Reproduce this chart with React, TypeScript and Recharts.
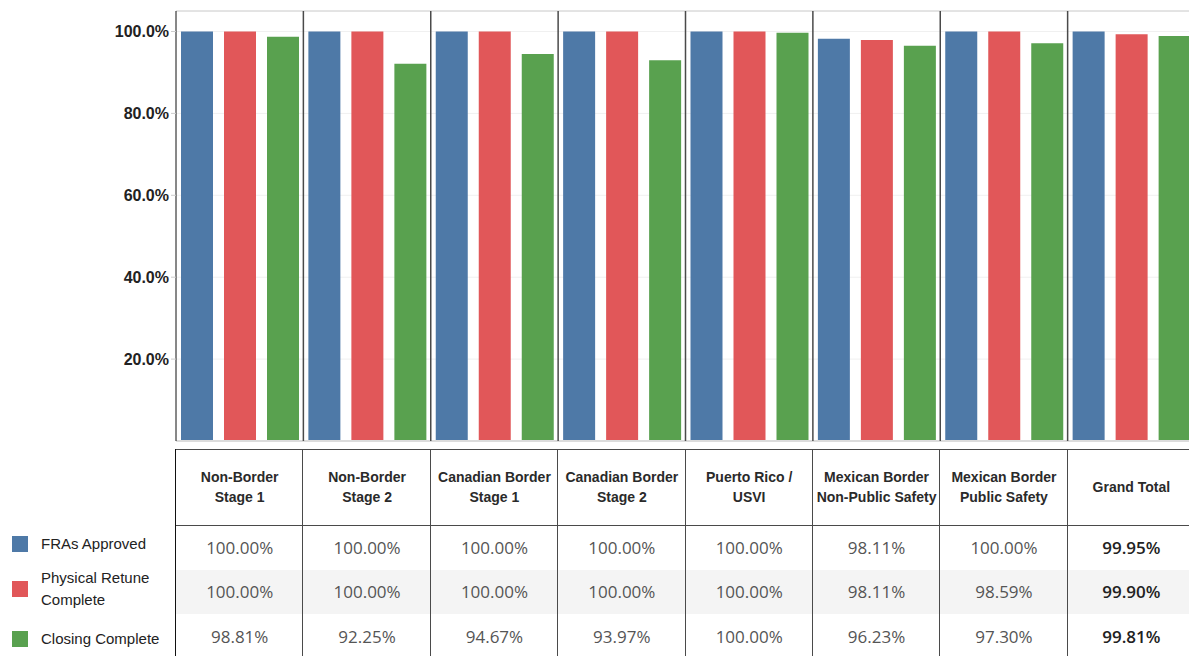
import { BarChart, Bar, XAxis, YAxis, CartesianGrid, ReferenceLine } from 'recharts';

// categories (line breaks are the header wraps in the table)
const categories = [
  'Non-Border\nStage 1',
  'Non-Border\nStage 2',
  'Canadian Border\nStage 1',
  'Canadian Border\nStage 2',
  'Puerto Rico /\nUSVI',
  'Mexican Border\nNon-Public Safety',
  'Mexican Border\nPublic Safety',
  'Grand Total',
];

// bar heights as drawn in the picture
const fraApproved = [100, 100, 100, 100, 100, 98.2, 100, 100];
const physicalRetune = [100, 100, 100, 100, 100, 97.9, 100, 99.3];
const closingComplete = [98.7, 92.1, 94.5, 93.0, 99.7, 96.5, 97.1, 98.9];

// table text
const fraLabels = ['100.00%', '100.00%', '100.00%', '100.00%', '100.00%', '98.11%', '100.00%', '99.95%'];
const retuneLabels = ['100.00%', '100.00%', '100.00%', '100.00%', '100.00%', '98.11%', '98.59%', '99.90%'];
const closingLabels = ['98.81%', '92.25%', '94.67%', '93.97%', '100.00%', '96.23%', '97.30%', '99.81%'];

const yTicks = [20, 40, 60, 80, 100];

const series = [
  { key: 'fra', name: 'FRAs Approved', color: '#4e79a7', labels: fraLabels },
  { key: 'retune', name: 'Physical Retune\nComplete', color: '#e15759', labels: retuneLabels },
  { key: 'closing', name: 'Closing Complete', color: '#59a14f', labels: closingLabels },
];

const data = categories.map((c, i) => ({
  name: c,
  fra: fraApproved[i],
  retune: physicalRetune[i],
  closing: closingComplete[i],
}));

const AXIS_W = 176;
const CHART_W = 1195;
const BAND = (CHART_W - AXIS_W) / categories.length;
const TABLE_TOP = 449;
const HEADER_H = 76;
const ROW_H = 44.5;
const LINE = '#4a4a4a';

export default function App() {
  return (
    <div style={{ position: 'absolute', left: 0, top: 0, width: 1189, height: 656, overflow: 'hidden', background: '#fff' }}>
      <BarChart
        width={CHART_W}
        height={444}
        data={data}
        margin={{ top: 11, right: 0, left: 0, bottom: 3 }}
        barSize={32}
        barGap={11}
      >
        <CartesianGrid vertical={false} stroke="#f0f0f0" />
        <XAxis dataKey="name" hide />
        <YAxis
          width={AXIS_W}
          domain={[0, 105]}
          ticks={yTicks}
          tickFormatter={(v) => `${Number(v).toFixed(1)}%`}
          tick={{ fontFamily: 'Liberation Sans, Arial', fontSize: 16, fontWeight: 'bold', fill: '#222' }}
          axisLine={{ stroke: '#111' }}
          tickLine={{ stroke: '#ccc' }}
          tickSize={5}
        />
        <ReferenceLine y={105} stroke="#d0d0d0" />
        <ReferenceLine y={0} stroke="#dcdcdc" strokeWidth={2} />
        {categories.slice(1).map((c) => (
          <ReferenceLine key={c} x={c} position="start" stroke={LINE} strokeWidth={1.5} />
        ))}
        {series.map((s) => (
          <Bar key={s.key} dataKey={s.key} name={s.name} fill={s.color} isAnimationActive={false} />
        ))}
      </BarChart>

      {/* table under the chart */}
      <div style={{ position: 'absolute', left: AXIS_W, top: TABLE_TOP, width: CHART_W - AXIS_W, height: 656 - TABLE_TOP }}>
        <div style={{ position: 'absolute', left: 0, top: HEADER_H + ROW_H, width: '100%', height: ROW_H, background: '#f4f4f4' }} />
        <div style={{ position: 'absolute', left: 0, top: 0, width: '100%', borderTop: `1.5px solid ${LINE}` }} />
        <div style={{ position: 'absolute', left: 0, top: HEADER_H, width: '100%', borderTop: `1.5px solid ${LINE}` }} />
        <div style={{ position: 'absolute', left: -1, top: 0, height: '100%', borderLeft: '1.5px solid #111' }} />
        {categories.map((c, i) => (
          <div key={c} style={{ position: 'absolute', left: i * BAND, top: 0, width: BAND, height: '100%' }}>
            {i > 0 && (
              <div style={{ position: 'absolute', left: -1, top: 0, height: '100%', borderLeft: `1.5px solid ${LINE}` }} />
            )}
            <div
              style={{
                position: 'absolute',
                left: 0,
                top: 0,
                width: '100%',
                height: HEADER_H,
                display: 'flex',
                alignItems: 'center',
                justifyContent: 'center',
                textAlign: 'center',
                whiteSpace: 'pre-line',
                fontFamily: 'Liberation Sans, Arial',
                fontWeight: 'bold',
                fontSize: 14,
                lineHeight: '20px',
                color: '#2a2a2a',
              }}
            >
              {c}
            </div>
            {series.map((s, r) => (
              <div
                key={s.key}
                style={{
                  position: 'absolute',
                  left: 0,
                  top: HEADER_H + r * ROW_H,
                  width: '100%',
                  height: ROW_H,
                  display: 'flex',
                  alignItems: 'center',
                  justifyContent: 'center',
                  fontFamily: 'Open Sans',
                  fontSize: 17,
                  fontWeight: i === categories.length - 1 ? 600 : 400,
                  color: i === categories.length - 1 ? '#222' : '#555',
                }}
              >
                {s.labels[i]}
              </div>
            ))}
          </div>
        ))}
      </div>

      {/* legend */}
      {series.map((s, r) => (
        <div
          key={s.key}
          style={{
            position: 'absolute',
            left: 12,
            top: TABLE_TOP + HEADER_H + r * ROW_H + (r === 2 ? 3 : -3),
            height: ROW_H,
            display: 'flex',
            alignItems: 'center',
          }}
        >
          <div style={{ width: 16, height: 16, background: s.color, marginRight: 13 }} />
          <div
            style={{
              whiteSpace: 'pre-line',
              fontFamily: 'Liberation Sans, Arial',
              fontSize: 15,
              lineHeight: '22px',
              color: '#222',
            }}
          >
            {s.name}
          </div>
        </div>
      ))}
    </div>
  );
}
